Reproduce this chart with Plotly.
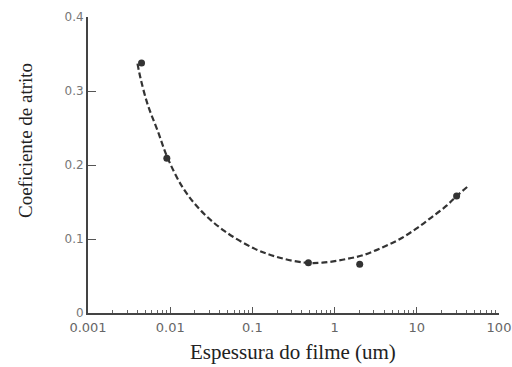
import plotly.graph_objects as go

# Measured points
pt_x = [0.00448, 0.0091, 0.48, 2.02, 30.5]
pt_y = [0.338, 0.209, 0.068, 0.066, 0.158]

# Dashed fitted curve
curve_x = [0.0040, 0.00436, 0.00531, 0.00705, 0.00935, 0.0143, 0.0238, 0.0455,
           0.106, 0.21, 0.438, 0.71, 1.25, 2.2, 3.87, 6.25, 9.84, 15.0, 23.0, 30.5, 42.8]
curve_y = [0.337, 0.317, 0.282, 0.246, 0.209, 0.169, 0.138, 0.111,
           0.087, 0.075, 0.068, 0.068, 0.072, 0.078, 0.089, 0.100, 0.114, 0.129, 0.145, 0.158, 0.172]

x_ticks = [0.001, 0.01, 0.1, 1, 10, 100]
x_labels = ["0.001", "0.01", "0.1", "1", "10", "100"]
y_ticks = [0, 0.1, 0.2, 0.3, 0.4]
y_labels = ["0", "0.1", "0.2", "0.3", "0.4"]

x_title = "Espessura do filme (um)"
y_title = "Coeficiente de atrito"

W, H = 512, 367
L, R, T, B = 88, 13, 17, 54
pw, ph = W - L - R, H - T - B

def px_x(page_x):
    return (page_x - L) / pw

def px_y(page_y):
    return (H - B - page_y) / ph

fig = go.Figure()
fig.add_trace(go.Scatter(x=curve_x, y=curve_y, mode="lines",
                         line=dict(color="#333333", width=2.2, dash="6px,3px",
                                   shape="spline", smoothing=1.0),
                         hoverinfo="skip"))
fig.add_trace(go.Scatter(x=pt_x, y=pt_y, mode="markers",
                         marker=dict(color="#333333", size=7)))

fig.update_layout(
    width=W, height=H,
    margin=dict(l=L, r=R, t=T, b=B),
    paper_bgcolor="white", plot_bgcolor="white",
    showlegend=False,
    xaxis=dict(type="log", range=[-3, 2], tickvals=x_ticks, ticktext=x_labels,
               ticks="inside", ticklen=6, tickcolor="#555555", automargin=False,
               showline=True, linecolor="#444444", linewidth=1.5,
               showgrid=False, zeroline=False, ticklabelstandoff=2,
               minor=dict(ticks="inside", ticklen=3, tickcolor="#666666", dtick="D1"),
               tickfont=dict(family="DejaVu Sans", size=13, color="#666666")),
    yaxis=dict(range=[0, 0.4], tickvals=y_ticks, ticktext=y_labels,
               ticks="inside", ticklen=8, tickcolor="#555555", automargin=False,
               showline=True, linecolor="#444444", linewidth=2,
               showgrid=False, zeroline=False,
               tickfont=dict(family="DejaVu Sans", size=12, color="#777777")),
    annotations=[
        dict(text=x_title, xref="paper", yref="paper",
             x=px_x(293), y=px_y(352), xanchor="center", yanchor="middle",
             showarrow=False,
             font=dict(family="Liberation Serif", size=21, color="#222222")),
        dict(text=y_title, xref="paper", yref="paper", textangle=-90,
             x=px_x(25), y=px_y(141), xanchor="center", yanchor="middle",
             showarrow=False,
             font=dict(family="Liberation Serif", size=19, color="#222222")),
    ],
)

fig.write_html("out.html", config={"displayModeBar": False},
               post_script="document.body.style.margin='0';document.body.style.overflow='hidden';")
